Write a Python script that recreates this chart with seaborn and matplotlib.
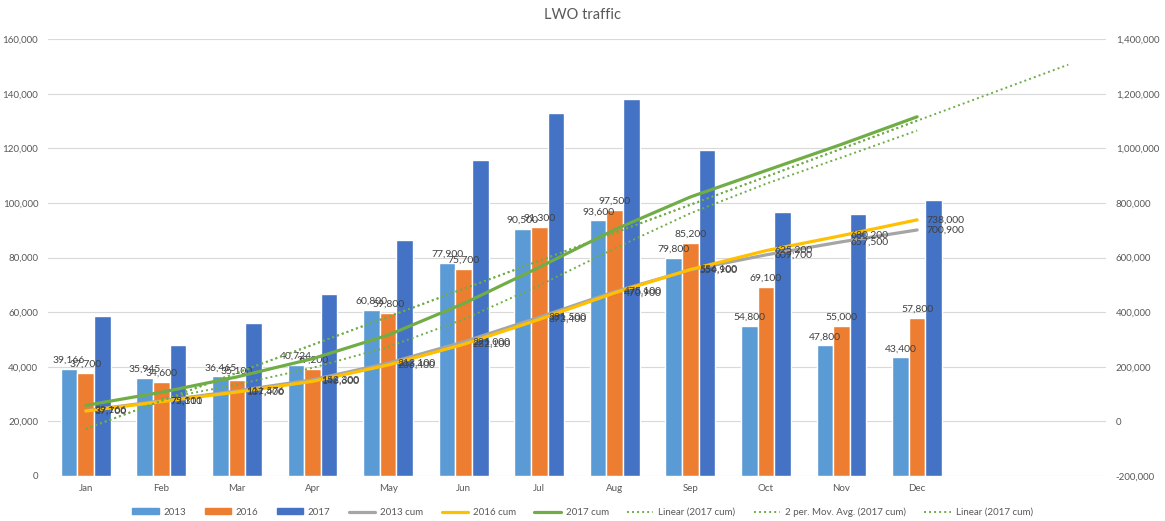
# LWO traffic - monthly bars per year with cumulative lines and trendlines

import numpy as np
import pandas as pd
import matplotlib
matplotlib.use("Agg")
import matplotlib.pyplot as plt
import seaborn as sns
from matplotlib.lines import Line2D
from matplotlib.patches import Patch
from matplotlib.ticker import FuncFormatter, MultipleLocator

# ================================ Data =================================
months = ["Jan", "Feb", "Mar", "Apr", "May", "Jun",
          "Jul", "Aug", "Sep", "Oct", "Nov", "Dec"]
years = ["2013", "2016", "2017"]

traffic_2013 = [39166, 35945, 36465, 40724, 60800, 77900,
                90500, 93600, 79800, 54800, 47800, 43400]
traffic_2016 = [37700, 34600, 35100, 39200, 59800, 75700,
                91300, 97500, 85200, 69100, 55000, 57800]
traffic_2017 = [58600, 48000, 56200, 66700, 86300, 115700,
                132800, 138100, 119400, 96700, 96000, 100900]

cum_2013 = [39166, 75111, 111576, 152300, 213100, 291000,
            381500, 475100, 554900, 609700, 657500, 700900]
cum_2016 = [37700, 72300, 107400, 146600, 206400, 282100,
            373400, 470900, 556100, 625200, 680200, 738000]
cum_2017 = [58600, 106600, 162800, 229500, 315800, 431500,
            564300, 702400, 821800, 918500, 1014500, 1115400]

forecast_periods = 2

# colours (Office palette)
bar_colors = ["#5B9BD5", "#ED7D31", "#4472C4"]
col_2013_cum = "#A5A5A5"
col_2016_cum = "#FFC000"
col_2017_cum = "#70AD47"
text_col = "#595959"
label_col = "#404040"

# ================================ Frame ================================
sns.set_theme(style="white")
plt.rcParams["font.family"] = ["Lato", "DejaVu Sans"]

fig = plt.figure(figsize=(11.65, 5.21), dpi=100)
fig.subplots_adjust(left=0.0412, right=0.9494, top=0.925, bottom=0.0864)
ax = fig.add_subplot(111)

# long form for seaborn
bars = pd.DataFrame({
    "month": months * 3,
    "year": np.repeat(years, 12),
    "traffic": traffic_2013 + traffic_2016 + traffic_2017,
})
sns.barplot(data=bars, x="month", y="traffic", hue="year", order=months,
            hue_order=years, palette=bar_colors, saturation=1, width=0.66,
            legend=False, ax=ax)

# data labels on 2013 and 2016 bars only
for cont in ax.containers[:2]:
    ax.bar_label(cont, labels=[f"{v:,.0f}" for v in cont.datavalues],
                 padding=3, fontsize=7.5, color=label_col)

# ============================ Secondary axis ===========================
ax2 = ax.twinx()
pos = np.arange(len(months))

sns.lineplot(x=pos, y=cum_2013, ax=ax2, color=col_2013_cum, lw=2.3)
sns.lineplot(x=pos, y=cum_2016, ax=ax2, color=col_2016_cum, lw=2.3)
sns.lineplot(x=pos, y=cum_2017, ax=ax2, color=col_2017_cum, lw=2.3)

for vals in (cum_2013, cum_2016):
    for x, v in zip(pos, vals):
        ax2.annotate(f"{v:,.0f}", (x, v), xytext=(6.5, 0),
                     textcoords="offset points", ha="left", va="center",
                     fontsize=7.5, color=label_col)

# trendlines on 2017 cum (Excel style: periods start at 1)
t = np.arange(1, len(cum_2017) + 1)
slope, intercept = np.polyfit(t, cum_2017, 1)
t_fc = np.array([1, len(cum_2017) + forecast_periods])
dot = (0, (1, 1.6))
sns.lineplot(x=t_fc - 1, y=slope * t_fc + intercept, ax=ax2,
             color=col_2017_cum, lw=1.4, linestyle=dot)
mov_avg = pd.Series(cum_2017).rolling(2).mean()
sns.lineplot(x=pos[1:], y=mov_avg[1:].values, ax=ax2,
             color=col_2017_cum, lw=1.4, linestyle=dot)
sns.lineplot(x=pos, y=slope * t + intercept, ax=ax2,
             color=col_2017_cum, lw=1.4, linestyle=dot)

# ================================ Axes =================================
thousands = FuncFormatter(lambda v, p: f"{v:,.0f}")
ax.set_ylim(0, 160000)
ax.yaxis.set_major_locator(MultipleLocator(20000))
ax.yaxis.set_major_formatter(thousands)
ax2.set_ylim(-200000, 1400000)
ax2.yaxis.set_major_locator(MultipleLocator(200000))
ax2.yaxis.set_major_formatter(thousands)
ax.set_xlim(-0.5, len(months) + forecast_periods - 0.5)
ax.set_xticks(pos)
ax.set_xticklabels(months)

ax.grid(axis="y", color="#D9D9D9", lw=0.8)
ax.set_axisbelow(True)
ax.set_xlabel("")
ax.set_ylabel("")
ax2.set_ylabel("")
for a in (ax, ax2):
    for s in a.spines.values():
        s.set_visible(False)
    a.tick_params(length=0, labelsize=7, colors=text_col)
ax.tick_params(axis="y", pad=7)
ax.tick_params(axis="x", pad=6)
ax2.tick_params(axis="y", pad=7)

fig.text(0.5, 1 - 15 / 521, "LWO traffic", ha="center", va="center",
         fontsize=10.5, color=text_col)

# ================================ Legend ===============================
handles = [Patch(color=c) for c in bar_colors] + [
    Line2D([], [], color=col_2013_cum, lw=2.3),
    Line2D([], [], color=col_2016_cum, lw=2.3),
    Line2D([], [], color=col_2017_cum, lw=2.3),
    Line2D([], [], color=col_2017_cum, lw=1.4, linestyle=dot),
    Line2D([], [], color=col_2017_cum, lw=1.4, linestyle=dot),
    Line2D([], [], color=col_2017_cum, lw=1.4, linestyle=dot),
]
labels = years + ["2013 cum", "2016 cum", "2017 cum", "Linear (2017 cum)",
                  "2 per. Mov. Avg. (2017 cum)", "Linear (2017 cum)"]
fig.legend(handles, labels, loc="center", bbox_to_anchor=(0.5, 1 - 512 / 521),
           ncol=9, frameon=False, fontsize=7, handlelength=2.7,
           handleheight=0.55, handletextpad=0.5, columnspacing=1.9,
           labelcolor=text_col)

fig.savefig("out.png", dpi=100)
